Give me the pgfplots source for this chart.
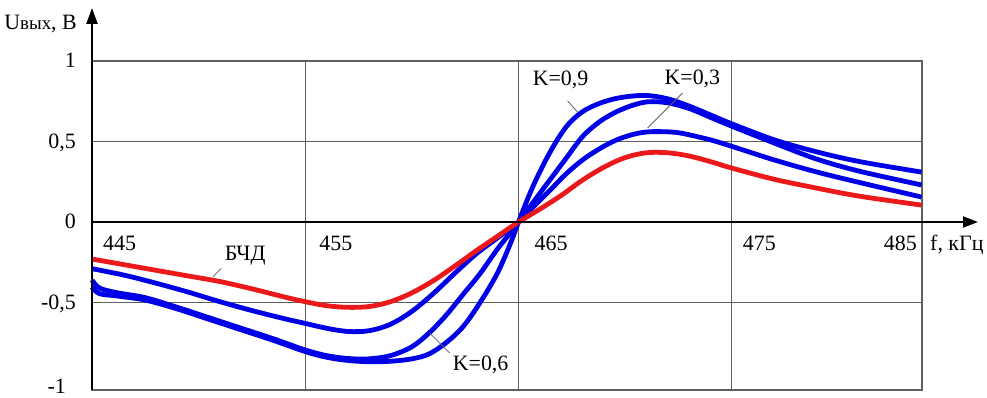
\documentclass[border=0pt]{standalone}
\usepackage{pgfplots}
\pgfplotsset{compat=1.18}
\usetikzlibrary{arrows.meta}
\usepackage{fontspec}
\setmainfont{Liberation Serif}

\definecolor{curveblue}{RGB}{0,0,230}
\definecolor{curvered}{RGB}{235,25,25}
\definecolor{gridgray}{RGB}{95,95,95}

% Discriminator characteristics U_out(f), f in kHz, U in V
\pgfplotstableread{
f      u
445.0  -0.23
446.5  -0.265
448.0  -0.30
449.5  -0.335
451.0  -0.37
452.5  -0.415
454.0  -0.465
455.0  -0.495
456.0  -0.52
457.0  -0.53
458.0  -0.525
459.0  -0.495
460.0  -0.44
461.0  -0.365
462.0  -0.275
463.0  -0.18
464.0  -0.09
465.0   0
466.0   0.08
467.0   0.165
468.0   0.26
469.0   0.34
470.0   0.40
471.0   0.43
472.0   0.43
473.0   0.41
474.0   0.375
475.0   0.335
477.0   0.265
479.0   0.21
481.0   0.16
483.9   0.105
}\bchd

\pgfplotstableread{
f      u
445.0  -0.29
446.5  -0.33
448.0  -0.38
449.5  -0.435
451.0  -0.495
452.5  -0.55
454.0  -0.60
455.0  -0.63
456.0  -0.66
457.0  -0.68
458.0  -0.675
459.0  -0.635
460.0  -0.555
461.0  -0.445
462.0  -0.32
463.0  -0.20
464.0  -0.10
465.0   0
465.7   0.095
466.5   0.20
467.2   0.295
468.0   0.385
468.8   0.455
469.6   0.51
470.4   0.545
471.1   0.56
472.0   0.56
472.7   0.55
474.0   0.51
475.0   0.47
477.0   0.385
479.0   0.31
481.0   0.245
483.9   0.155
}\kthree

\pgfplotstableread{
f      u
445.0  -0.36
445.35 -0.41
446.2  -0.44
447.5  -0.47
449.0  -0.53
450.5  -0.595
452.0  -0.66
453.5  -0.725
455.0  -0.795
456.0  -0.83
457.0  -0.848
458.0  -0.85
459.0  -0.83
460.0  -0.775
460.8  -0.69
461.6  -0.58
462.4  -0.45
463.2  -0.32
464.0  -0.17
464.6  -0.07
465.0   0
466.0   0.178
467.2   0.39
468.0   0.53
468.8   0.623
469.6   0.685
470.4   0.727
471.1   0.747
472.0   0.74
473.0   0.705
474.0   0.65
475.0   0.595
477.0   0.49
479.0   0.39
481.0   0.315
483.9   0.23
}\ksix

\pgfplotstableread{
f      u
445.0  -0.405
445.35 -0.445
446.2  -0.46
447.5  -0.485
449.0  -0.54
450.5  -0.605
452.0  -0.67
453.5  -0.735
455.0  -0.805
456.0  -0.84
457.0  -0.86
458.0  -0.868
459.0  -0.865
460.0  -0.85
460.8  -0.82
461.6  -0.75
462.4  -0.65
463.2  -0.50
464.0  -0.32
464.6  -0.14
465.0   0
465.67  0.219
466.45  0.427
467.24  0.592
468.0   0.685
468.8   0.737
469.6   0.768
470.4   0.783
471.1   0.785
472.0   0.765
473.0   0.72
474.0   0.665
475.0   0.61
477.0   0.51
479.0   0.435
481.0   0.375
483.9   0.31
}\knine

\begin{document}
\begin{tikzpicture}[font=\fontsize{22}{26}\selectfont]
\useasboundingbox (-92bp,-8bp) rectangle (895bp,390bp);
\begin{axis}[
  scale only axis,
  width=830bp, height=329bp,
  xmin=445, xmax=483.92,
  ymin=-1.0435, ymax=1,
  xtick={445,455,465,475},
  ytick={-0.5,0,0.5,1},
  xticklabels={}, yticklabels={},
  major tick length=0pt,
  grid=major,
  major grid style={gridgray, line width=1.2bp},
  axis line style={gridgray, line width=1.2bp},
  clip=false,
  every axis plot/.append style={line width=4.8bp, smooth, tension=0.55},
]
% characteristics for the coupling factors
\addplot[curveblue] table[x=f,y=u]{\knine};
\addplot[curveblue] table[x=f,y=u]{\ksix};
\addplot[curveblue] table[x=f,y=u]{\kthree};
% reference detector
\addplot[curvered] table[x=f,y=u]{\bchd};

% axes with arrows
\draw[black, line width=2bp, -{Triangle[length=16bp,width=11bp]}]
  (axis cs:445,-1.0435) -- ([yshift=53bp]axis cs:445,1);
\draw[black, line width=2bp, -{Triangle[length=15bp,width=11bp]}]
  (axis cs:445,0) -- ([xshift=56bp]axis cs:483.92,0);

% y tick labels
\node[anchor=base east, inner sep=0pt, yshift=-7bp, xshift=-16bp] at (axis cs:445,1) {1};
\node[anchor=base east, inner sep=0pt, yshift=-7bp, xshift=-16bp] at (axis cs:445,0.5) {0,5};
\node[anchor=base east, inner sep=0pt, yshift=-7bp, xshift=-16bp] at (axis cs:445,0) {0};
\node[anchor=base east, inner sep=0pt, yshift=-7bp, xshift=-16bp] at (axis cs:445,-0.5) {-0,5};
\node[anchor=base east, inner sep=0pt, yshift=-3bp, xshift=-26bp] at (axis cs:445,-1.0435) {-1};

% x tick labels
\node[anchor=base west, inner sep=0pt, yshift=-28.5bp, xshift=11bp] at (axis cs:445,0) {445};
\node[anchor=base west, inner sep=0pt, yshift=-28.5bp, xshift=14bp] at (axis cs:455,0) {455};
\node[anchor=base west, inner sep=0pt, yshift=-28.5bp, xshift=16bp] at (axis cs:465,0) {465};
\node[anchor=base west, inner sep=0pt, yshift=-28.5bp, xshift=11bp] at (axis cs:475,0) {475};
\node[anchor=base east, inner sep=0pt, yshift=-28.5bp, xshift=-5bp] at (axis cs:483.92,0) {485};

% axis titles
\node[anchor=base west, inner sep=0pt, yshift=-28.5bp, xshift=8bp] at (axis cs:483.92,0) {f, кГц};
\node[anchor=base east, inner sep=0pt, yshift=31bp, xshift=-15bp] at (axis cs:445,1)
  {U{\fontsize{19}{22}\selectfont вых}, В};

% curve labels with leaders
\node[anchor=base west, inner sep=0pt] at (axis cs:451.22,-0.242) {БЧД};
\draw[gridgray, line width=0.8bp] (axis cs:451.06,-0.288) -- (axis cs:450.67,-0.340);
\node[anchor=base west, inner sep=0pt] at (axis cs:465.66,0.845) {K=0,9};
\draw[gridgray, line width=0.8bp] (axis cs:467.30,0.752) -- (axis cs:467.77,0.683);
\node[anchor=base west, inner sep=0pt] at (axis cs:471.84,0.851) {K=0,3};
\draw[gridgray, line width=0.8bp] (axis cs:472.69,0.801) -- (axis cs:471.05,0.584);
\node[anchor=base west, inner sep=0pt] at (axis cs:461.91,-0.925) {K=0,6};
\draw[gridgray, line width=0.8bp] (axis cs:461.77,-0.814) -- (axis cs:460.83,-0.689);
\end{axis}
\end{tikzpicture}
\end{document}
